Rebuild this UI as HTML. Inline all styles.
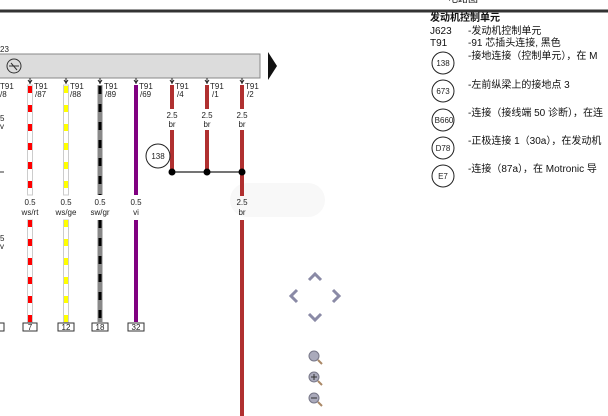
<!DOCTYPE html>
<html><head><meta charset="utf-8"><style>
body{margin:0;background:#fff;width:608px;height:416px;overflow:hidden;position:relative;font-family:"Liberation Sans","Noto Sans CJK SC",sans-serif}
svg{position:absolute;left:0;top:0}
.t{font-size:8px;fill:#222}
.r{position:absolute;font-size:10px;color:#111;white-space:nowrap;line-height:11px}
</style></head><body>
<svg width="608" height="416" viewBox="0 0 608 416" font-family="Liberation Sans, Noto Sans CJK SC, sans-serif">
<line x1="0" y1="11" x2="608" y2="11" stroke="#333" stroke-width="3"/>
<rect x="230" y="183" width="95" height="34" rx="17" fill="#f8f8f8"/>
<text x="0" y="52" class="t">23</text>
<rect x="-1" y="54" width="261" height="24" fill="#dcdcdc" stroke="#888" stroke-width="1"/>
<polygon points="268,52 277,66 268,80" fill="#111"/>
<circle cx="14" cy="66" r="7" fill="none" stroke="#333"/>
<line x1="9" y1="66" x2="19" y2="66" stroke="#333"/><line x1="11" y1="63" x2="17" y2="70" stroke="#333"/>
<!-- connectors and labels -->
<g stroke="#222" fill="none" stroke-width="1">
<path d="M28,80 l2,3 l2,-3 M30,78 v6"/><path d="M64,80 l2,3 l2,-3 M66,78 v6"/>
<path d="M98,80 l2,3 l2,-3 M100,78 v6"/><path d="M134,80 l2,3 l2,-3 M136,78 v6"/>
<path d="M170,80 l2,3 l2,-3 M172,78 v6"/><path d="M205,80 l2,3 l2,-3 M207,78 v6"/>
<path d="M240,80 l2,3 l2,-3 M242,78 v6"/>
</g>
<g class="t">
<text x="0" y="89">T91</text><text x="0" y="97">/8</text>
<text x="34" y="89">T91</text><text x="35" y="97">/87</text>
<text x="70" y="89">T91</text><text x="70" y="97">/88</text>
<text x="104" y="89">T91</text><text x="105" y="97">/89</text>
<text x="139" y="89">T91</text><text x="140" y="97">/69</text>
<text x="175" y="89">T91</text><text x="177" y="97">/4</text>
<text x="210" y="89">T91</text><text x="212" y="97">/1</text>
<text x="245" y="89">T91</text><text x="247" y="97">/2</text>
<text x="0" y="121">5</text><text x="0" y="129">v</text>
<text x="0" y="241">5</text><text x="0" y="249">v</text>
</g>
<line x1="0" y1="172" x2="4" y2="172" stroke="#333"/>
<!-- dashed wires -->
<g>
<rect x="27.5" y="85" width="5" height="110" fill="#fff" stroke="#ccc"/>
<rect x="27.5" y="220" width="5" height="102" fill="#fff" stroke="#ccc"/>
<line x1="30" y1="86" x2="30" y2="195" stroke="#f00" stroke-width="4" stroke-dasharray="7 12"/>
<line x1="30" y1="220" x2="30" y2="322" stroke="#f00" stroke-width="4" stroke-dasharray="7 12"/>
<rect x="63.5" y="85" width="5" height="110" fill="#fff" stroke="#ccc"/>
<rect x="63.5" y="220" width="5" height="102" fill="#fff" stroke="#ccc"/>
<line x1="66" y1="86" x2="66" y2="195" stroke="#ff0" stroke-width="4" stroke-dasharray="7 12"/>
<line x1="66" y1="220" x2="66" y2="322" stroke="#ff0" stroke-width="4" stroke-dasharray="7 12"/>
<rect x="97.5" y="85" width="5" height="110" fill="#888"/>
<rect x="97.5" y="220" width="5" height="102" fill="#888"/>
<line x1="100" y1="86" x2="100" y2="195" stroke="#000" stroke-width="3" stroke-dasharray="8 10"/>
<line x1="100" y1="220" x2="100" y2="322" stroke="#000" stroke-width="3" stroke-dasharray="8 10"/>
<rect x="134" y="85" width="4" height="110" fill="#800080"/>
<rect x="134" y="220" width="4" height="102" fill="#800080"/>
</g>
<g class="t" text-anchor="middle">
<text x="30" y="205">0.5</text><text x="30" y="215">ws/rt</text>
<text x="66" y="205">0.5</text><text x="66" y="215">ws/ge</text>
<text x="100" y="205">0.5</text><text x="100" y="215">sw/gr</text>
<text x="136" y="205">0.5</text><text x="136" y="215">vi</text>
<text x="172" y="118">2.5</text><text x="172" y="127">br</text>
<text x="207" y="118">2.5</text><text x="207" y="127">br</text>
<text x="242" y="118">2.5</text><text x="242" y="127">br</text>
<text x="242" y="205">2.5</text><text x="242" y="215">br</text>
</g>
<!-- boxes -->
<g stroke="#333" fill="#fff">
<rect x="-4" y="323" width="8" height="8"/>
<rect x="23" y="323" width="14" height="8"/><rect x="58" y="323" width="16" height="8"/>
<rect x="92" y="323" width="16" height="8"/><rect x="128" y="323" width="16" height="8"/>
</g>
<g class="t" text-anchor="middle">
<text x="30" y="330">7</text><text x="66" y="330">12</text><text x="100" y="330">18</text><text x="136" y="330">32</text>
</g>
<!-- brown -->
<g fill="#b03030">
<rect x="170" y="85" width="4" height="24"/><rect x="205" y="85" width="4" height="24"/><rect x="240" y="85" width="4" height="24"/>
<rect x="170" y="130" width="4" height="42"/><rect x="205" y="130" width="4" height="42"/><rect x="240" y="130" width="4" height="66"/>
<rect x="240" y="220" width="4" height="196"/>
</g>
<line x1="172" y1="172" x2="242" y2="172" stroke="#222" stroke-width="1.2"/>
<circle cx="172" cy="172" r="3.5" fill="#000"/><circle cx="207" cy="172" r="3.5" fill="#000"/><circle cx="242" cy="172" r="3.5" fill="#000"/>
<circle cx="158" cy="156" r="12" fill="none" stroke="#222"/>
<text x="158" y="159" class="t" text-anchor="middle">138</text>
<!-- nav -->
<g fill="none" stroke="#8a8aa6" stroke-width="3">
<path d="M309,280 l6,-6 l6,6"/><path d="M309,314 l6,6 l6,-6"/>
<path d="M297,290 l-6,6 l6,6"/><path d="M333,290 l6,6 l-6,6"/>
</g>
<g>
<circle cx="314" cy="356" r="5" fill="#aab" stroke="#778"/><line x1="318" y1="360" x2="322" y2="364" stroke="#a86" stroke-width="2"/>
<circle cx="314" cy="377" r="5" fill="#aab" stroke="#778"/><line x1="318" y1="381" x2="322" y2="385" stroke="#a86" stroke-width="2"/>
<path d="M311,377 h6 M314,374 v6" stroke="#333"/>
<circle cx="314" cy="398" r="5" fill="#aab" stroke="#778"/><line x1="318" y1="402" x2="322" y2="406" stroke="#a86" stroke-width="2"/>
<path d="M311,398 h6" stroke="#333"/>
</g>
<!-- legend circles -->
<g fill="none" stroke="#222">
<circle cx="443" cy="63" r="11"/><circle cx="443" cy="91" r="11"/><circle cx="443" cy="120" r="11"/>
<circle cx="443" cy="148" r="11"/><circle cx="443" cy="176" r="11"/>
</g>
<g font-size="8" fill="#222" text-anchor="middle">
<text x="443" y="66">138</text><text x="443" y="94">673</text><text x="444" y="123">B660</text>
<text x="443" y="151">D78</text><text x="443" y="179">E7</text>
</g>
</svg>
<div class="r" style="left:448px;top:-6px">电路图</div>
<div class="r" style="left:430px;top:13px;font-weight:bold">发动机控制单元</div>
<div class="r" style="left:430px;top:26px">J623</div><div class="r" style="left:468px;top:26px">-发动机控制单元</div>
<div class="r" style="left:430px;top:38px">T91</div><div class="r" style="left:468px;top:38px">-91 芯插头连接, 黑色</div>
<div class="r" style="left:468px;top:51px">-接地连接（控制单元），在 M</div>
<div class="r" style="left:468px;top:80px">-左前纵梁上的接地点 3</div>
<div class="r" style="left:468px;top:108px">-连接（接线端 50 诊断），在连</div>
<div class="r" style="left:468px;top:136px">-正极连接 1（30a），在发动机</div>
<div class="r" style="left:468px;top:164px">-连接（87a），在 Motronic 导</div>
</body></html>
